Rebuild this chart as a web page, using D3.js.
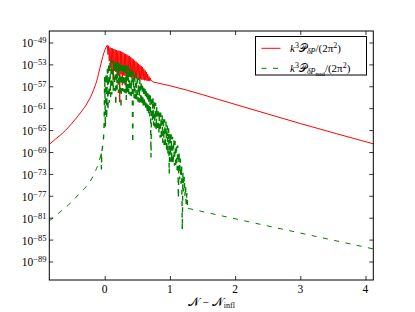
<!DOCTYPE html>
<html><head><meta charset="utf-8">
<script src="https://cdn.jsdelivr.net/npm/d3@7"></script>
<style>html,body{margin:0;padding:0;background:#fff;}svg{display:block;}</style>
</head><body>
<svg id="c" width="415" height="312"></svg>
<script>
// ---- data (x = N - N_infl, value = log10 of spectrum) ----
const xTicks = [0, 1, 2, 3, 4];
const yTickExps = [-49, -53, -57, -61, -65, -69, -73, -77, -81, -85, -89];
const seriesNames = ["k³𝒫δP/(2π²)", "k³𝒫δPnad/(2π²)"];

const redRise = [[-0.85,-67.6],[-0.75,-66.6],[-0.65,-65.6],[-0.55,-64.4],[-0.45,-63.0],[-0.35,-61.5],[-0.25,-59.7],[-0.175,-57.8],[-0.12,-55.9],[-0.072,-53.6],[-0.03,-51.6],[0.005,-50.3],[0.04,-49.5]];
const redOsc = [[0.04,-49.5],[0.05,-51.2],[0.06,-49.6],[0.07,-52.4],[0.08,-49.9],[0.09,-53.6],[0.10,-50.0],[0.11,-53.9],[0.12,-50.1],[0.13,-55.9],[0.14,-50.2],[0.15,-54.2],[0.16,-50.3],[0.17,-54.4],[0.18,-50.4],[0.19,-54.6],[0.20,-50.5],[0.21,-55.0],[0.22,-50.5],[0.23,-59.9],[0.24,-50.6],[0.25,-54.8],[0.26,-50.7],[0.27,-56.8],[0.28,-50.8],[0.29,-55.0],[0.30,-51.0],[0.31,-55.1],[0.32,-51.1],[0.33,-57.2],[0.34,-51.2],[0.35,-55.2],[0.36,-51.4],[0.37,-55.3],[0.38,-51.5],[0.39,-55.3],[0.40,-51.7],[0.41,-55.4],[0.42,-51.9],[0.43,-55.4],[0.44,-52.1],[0.45,-55.5],[0.46,-52.3],[0.47,-55.5],[0.48,-52.5],[0.49,-55.6],[0.50,-52.7],[0.51,-55.6],[0.52,-52.9],[0.53,-55.7],[0.54,-53.1],[0.55,-55.7],[0.56,-53.3],[0.57,-55.8],[0.58,-53.5],[0.59,-55.8],[0.60,-53.8],[0.61,-55.9],[0.62,-54.1],[0.63,-55.9],[0.64,-54.4],[0.65,-56.0],[0.66,-54.8],[0.67,-56.0],[0.68,-55.2],[0.69,-56.0],[0.70,-55.5],[0.71,-56.0],[0.72,-55.9],[0.73,-56.1],[0.74,-56.2]];
const redTail = [[0.74,-56.2],[1.0,-56.9],[2.0,-60.3],[3.0,-63.8],[4.12,-67.5]];

const greenRise = [[-0.85,-81.6],[-0.7,-80.1],[-0.55,-78.6],[-0.38,-76.5],[-0.226,-74.4],[-0.15,-72.7],[-0.1,-71.2],[-0.072,-70.1],[-0.055,-69.3]];
const greenOsc = [[-0.055,-69.3],[-0.05,-72.2],[-0.045,-69.0],[-0.03,-67.8],[-0.02,-66.8],[-0.01,-64.6],[0.00,-55.2],[0.01,-64.5],[0.02,-54.6],[0.03,-63.0],[0.04,-53.8],[0.05,-61.5],[0.06,-52.8],[0.07,-60.0],[0.08,-52.4],[0.09,-59.0],[0.10,-52.2],[0.11,-58.5],[0.12,-52.3],[0.13,-58.0],[0.14,-52.3],[0.15,-57.8],[0.16,-52.4],[0.17,-60.5],[0.18,-52.4],[0.19,-57.6],[0.20,-52.5],[0.21,-58.2],[0.22,-52.5],[0.23,-57.7],[0.24,-52.6],[0.25,-61.0],[0.26,-52.6],[0.27,-57.9],[0.28,-52.7],[0.29,-58.0],[0.30,-52.8],[0.31,-58.2],[0.32,-52.9],[0.33,-59.5],[0.34,-53.1],[0.35,-58.4],[0.36,-53.3],[0.37,-58.5],[0.38,-53.5],[0.39,-58.7],[0.40,-53.8],[0.41,-58.8],[0.42,-54.0],[0.43,-67.4],[0.44,-54.2],[0.45,-59.2],[0.46,-54.5],[0.47,-59.4],[0.48,-54.7],[0.49,-59.6],[0.50,-55.0],[0.51,-59.8],[0.52,-55.3],[0.53,-60.0],[0.54,-55.7],[0.55,-60.3],[0.56,-56.0],[0.57,-60.5],[0.58,-56.4],[0.59,-60.8],[0.60,-56.8],[0.61,-61.0],[0.62,-57.1],[0.63,-61.5],[0.64,-57.4],[0.65,-61.9],[0.66,-57.8],[0.67,-62.2],[0.68,-58.1],[0.69,-62.6],[0.70,-58.5],[0.71,-70.0],[0.72,-58.8],[0.73,-63.4],[0.74,-59.1],[0.75,-64.2],[0.76,-59.5],[0.77,-64.5],[0.78,-60.0],[0.79,-64.9],[0.80,-60.6],[0.81,-65.2],[0.82,-61.0],[0.83,-65.6],[0.84,-61.5],[0.85,-66.4],[0.86,-61.8],[0.87,-66.8],[0.88,-62.2],[0.89,-67.3],[0.90,-62.6],[0.91,-67.7],[0.92,-63.0],[0.93,-68.2],[0.94,-63.5],[0.95,-69.0],[0.96,-64.1],[0.97,-69.6],[0.98,-64.6],[0.99,-73.0],[1.00,-65.5],[1.01,-70.8],[1.02,-65.8],[1.03,-71.0],[1.04,-66.2],[1.05,-71.3],[1.06,-66.6],[1.07,-71.5],[1.08,-67.0],[1.09,-71.9],[1.10,-67.5],[1.11,-72.3],[1.12,-67.8],[1.13,-77.5],[1.14,-69.0],[1.15,-74.0],[1.16,-70.2],[1.17,-74.8],[1.18,-71.4],[1.19,-83.2],[1.20,-72.7],[1.21,-76.2],[1.22,-73.5],[1.23,-77.0],[1.24,-75.3],[1.25,-78.5],[1.26,-76.5],[1.27,-78.7],[1.28,-79.3]];
const greenTail = [[1.28,-79.3],[2.0,-81.2],[3.0,-83.8],[4.12,-86.7]];

// ---- layout ----
const W = 415, H = 312;
const L = 49.3, R = 373.3, T = 31, B = 280;
const svg = d3.select("#c");
svg.append("rect").attr("width", W).attr("height", H).attr("fill", "#fff");

const x = d3.scaleLinear().domain([-0.85, 4.12]).range([L, R]);
const y = d3.scaleLog().domain([Math.pow(10, -92.38), Math.pow(10, -46.9)]).range([B, T]);

svg.append("clipPath").attr("id", "clip").append("rect")
  .attr("x", L).attr("y", T).attr("width", R - L).attr("height", B - T);

const line = d3.line().x(d => x(d[0])).y(d => y(Math.pow(10, d[1])));
const smooth = d3.line().x(d => x(d[0])).y(d => y(Math.pow(10, d[1]))).curve(d3.curveMonotoneX);
const g = svg.append("g").attr("clip-path", "url(#clip)");
const RED = "#ff0000", GREEN = "#008000", DASH = "5,6.5";
g.append("path").datum(redRise).attr("d", smooth).attr("fill", "none").attr("stroke", RED).attr("stroke-width", 1);
g.append("path").datum(redOsc).attr("d", line).attr("fill", "none").attr("stroke", RED).attr("stroke-width", 1);
g.append("path").datum(redTail).attr("d", smooth).attr("fill", "none").attr("stroke", RED).attr("stroke-width", 1);
g.append("path").datum(greenRise).attr("d", smooth).attr("fill", "none").attr("stroke", GREEN).attr("stroke-width", 1).attr("stroke-dasharray", DASH);
g.append("path").datum(greenOsc).attr("d", line).attr("fill", "none").attr("stroke", GREEN).attr("stroke-width", 1.4).attr("stroke-dasharray", DASH);
g.append("path").datum(greenTail).attr("d", smooth).attr("fill", "none").attr("stroke", GREEN).attr("stroke-width", 1).attr("stroke-dasharray", DASH);

// ---- frame and ticks ----
const serif = "'Liberation Serif','DejaVu Serif',serif";
const tk = 4;
const yTickVals = yTickExps.map(e => Math.pow(10, e));
const axL = d3.axisLeft(y).tickValues(yTickVals).tickSize(-tk).tickFormat("");
const axR = d3.axisRight(y).tickValues(yTickVals).tickSize(-tk).tickFormat("");
const axB = d3.axisBottom(x).tickValues(xTicks).tickSize(-tk).tickFormat("");
const axT = d3.axisTop(x).tickValues(xTicks).tickSize(-tk).tickFormat("");
[[axL, `translate(${L},0)`], [axR, `translate(${R},0)`], [axB, `translate(0,${B})`], [axT, `translate(0,${T})`]].forEach(([a, t]) => {
  const gg = svg.append("g").attr("transform", t).call(a);
  gg.select(".domain").remove();
  gg.selectAll("line").attr("stroke", "#000").attr("stroke-width", 0.8);
});
svg.append("rect").attr("x", L).attr("y", T).attr("width", R - L).attr("height", B - T)
  .attr("fill", "none").attr("stroke", "#000").attr("stroke-width", 1);

// y tick labels
yTickExps.forEach(e => {
  const t = svg.append("text").attr("x", 46.5).attr("y", y(Math.pow(10, e)) + 5)
    .attr("text-anchor", "end").attr("font-family", serif).attr("font-size", 11.5).attr("fill", "#000");
  t.append("tspan").text("10");
  t.append("tspan").attr("font-size", 8.5).attr("dy", -4).text("\u2212" + Math.abs(e));
});
// x tick labels
xTicks.forEach(v => {
  svg.append("text").attr("x", x(v)).attr("y", 293).attr("text-anchor", "middle")
    .attr("font-family", serif).attr("font-size", 11.5).attr("fill", "#000").text(v);
});
// x axis label
const xl = svg.append("text").attr("x", (L + R) / 2).attr("y", 305.5).attr("text-anchor", "middle")
  .attr("font-family", serif).attr("font-size", 11.5).attr("fill", "#000");
xl.append("tspan").text("𝒩");
xl.append("tspan").text(" \u2212 ");
xl.append("tspan").text("𝒩");
xl.append("tspan").attr("font-size", 8).attr("dy", 2).text("infl");

// ---- legend ----
svg.append("rect").attr("x", 255.5).attr("y", 36.5).attr("width", 111).attr("height", 38.5)
  .attr("fill", "#fff").attr("stroke", "#000").attr("stroke-width", 1);
const legendColors = [RED, GREEN];
const legendY = [48.3, 68.3];
seriesNames.forEach((n, i) => {
  svg.append("line").attr("x1", 261.5).attr("x2", 280.5).attr("y1", legendY[i]).attr("y2", legendY[i])
    .attr("stroke", legendColors[i]).attr("stroke-width", 1)
    .attr("stroke-dasharray", i === 1 ? DASH : null);
  const t = svg.append("text").attr("x", 290).attr("y", legendY[i] + 4)
    .attr("font-family", serif).attr("font-size", 11).attr("fill", "#000");
  t.append("tspan").attr("font-style", "italic").text("k");
  t.append("tspan").attr("font-size", 8).attr("dy", -4.5).text("3");
  t.append("tspan").attr("dy", 4.5).text("𝒫");
  t.append("tspan").attr("font-size", 8).attr("dy", 2).attr("font-style", "italic").text("δP");
  let back = -2;
  if (i === 1) {
    t.append("tspan").attr("font-size", 6.5).attr("dy", 1.5).text("nad");
    back = -3.5;
  }
  t.append("tspan").attr("dy", back).text("/(2π");
  t.append("tspan").attr("font-size", 8).attr("dy", -4.5).text("2");
  t.append("tspan").attr("dy", 4.5).text(")");
});
</script>
</body></html>
